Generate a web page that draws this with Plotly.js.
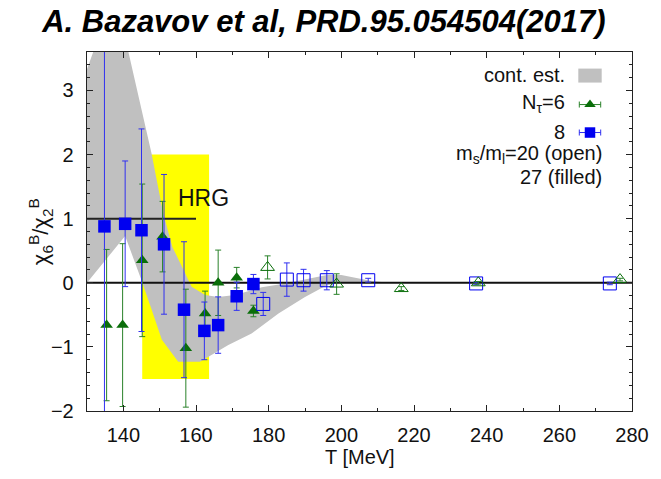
<!DOCTYPE html>
<html>
<head>
<meta charset="utf-8">
<script src="https://cdn.plot.ly/plotly-3.0.1.min.js"></script>
<style>html,body{margin:0;padding:0;background:#fff;}#chart{width:661px;height:479px;}</style>
</head>
<body>
<div id="chart"></div>
<script>
// ---- data ----
// Nt=8, ms/ml=27 (filled squares)
const T8_27   = [134.8, 140.5, 145.0, 151.2, 156.7, 162.3, 166.1, 171.2, 175.8];
const chi8_27 = [0.88, 0.92, 0.82, 0.60, -0.42, -0.75, -0.66, -0.21, -0.02];
const err8_27 = [2.9, 0.98, 1.58, 1.09, 1.06, 0.45, 0.44, 0.22, 0.15];
// Nt=6, ms/ml=27 (filled triangles)
const T6_27   = [135.4, 139.8, 145.2, 150.8, 157.2, 162.5, 166.1, 171.2, 175.8];
const chi6_27 = [-0.66, -0.66, 0.35, 0.72, -1.02, -0.48, 0.0, 0.08, -0.44];
const err6_27 = [1.18, 1.27, 1.19, 0.55, 0.92, 0.35, 0.51, 0.16, 0.09];
// Nt=8, ms/ml=20 (open squares)
const T8_20   = [178.5, 185.0, 189.6, 196.0, 207.4, 237.1, 273.9];
const chi8_20 = [-0.33, 0.05, 0.04, 0.04, 0.04, -0.01, -0.01];
const err8_20 = [0.18, 0.26, 0.17, 0.15, 0.03, 0.02, 0.02];
// Nt=6, ms/ml=20 (open triangles)
const T6_20   = [179.7, 198.7, 216.5, 237.7, 276.7];
const chi6_20 = [0.24, -0.02, -0.09, 0.0, 0.05];
const err6_20 = [0.18, 0.16, 0.03, 0.02, 0.02];
// continuum estimate band
const bandUpperT = [130, 131.7, 134, 138, 141.4, 147.8, 149.2, 151, 153.5, 156.5, 158.8, 162.5, 166.1, 170.7, 178.1, 184.5, 190, 196, 200, 208, 213];
const bandUpperY = [3.33, 3.6, 4.1, 4.2, 3.6, 2.01, 1.6, 1.08, 0.56, 0.2, -0.06, -0.19, -0.22, -0.19, -0.07, -0.01, 0.05, 0.12, 0.12, 0.03, 0.0];
const bandLowerT = [130, 140.5, 145, 147.8, 150.6, 155.1, 161.1, 163.4, 168.9, 175.3, 182.7, 190, 196, 200, 213];
const bandLowerY = [0.0, 0.73, 0.04, -0.42, -0.89, -1.23, -1.23, -1.15, -0.97, -0.79, -0.48, -0.22, -0.04, 0.0, 0.0];
// HRG
const hrgValue = 1;
const hrgLineT = [130, 160];
const hrgBandT = [145.2, 163.6];
const hrgBandY = [-1.5, 2.0];
const zeroLineT = [130, 280];
// ticks
const xTicks = [140, 160, 180, 200, 220, 240, 260, 280];
const yTicks = [-2, -1, 0, 1, 2, 3];

const FONT = 'Liberation Sans, Arial, Helvetica, sans-serif';
const BLUE = '#0000f0';
const BLUE_ERR = '#3030f0';
const GREEN = '#0a6e0a';
const GREEN_ERR = '#2a822a';

const polyT = bandUpperT.concat(bandLowerT.slice().reverse());
const polyY = bandUpperY.concat(bandLowerY.slice().reverse());

const traces = [
  {x: polyT, y: polyY, type: 'scatter', mode: 'lines', fill: 'toself',
   fillcolor: 'rgb(192,192,192)', line: {width: 0}, hoverinfo: 'skip', showlegend: false},
  {x: zeroLineT, y: zeroLineT.map(() => 0), type: 'scatter', mode: 'lines',
   line: {color: '#111', width: 2}, showlegend: false},
  {x: hrgLineT, y: hrgLineT.map(() => hrgValue), type: 'scatter', mode: 'lines',
   line: {color: '#222', width: 2}, showlegend: false},
  {x: T6_27, y: chi6_27, type: 'scatter', mode: 'markers',
   error_y: {type: 'data', array: err6_27, color: GREEN_ERR, thickness: 1, width: 3},
   marker: {symbol: 'triangle-up', size: 11, color: GREEN}, showlegend: false},
  {x: T8_27, y: chi8_27, type: 'scatter', mode: 'markers',
   error_y: {type: 'data', array: err8_27, color: BLUE_ERR, thickness: 1, width: 3},
   marker: {symbol: 'square', size: 12.5, color: BLUE}, showlegend: false},
  {x: T8_20, y: chi8_20, type: 'scatter', mode: 'markers',
   error_y: {type: 'data', array: err8_20, color: BLUE_ERR, thickness: 1, width: 3},
   marker: {symbol: 'square-open', size: 13, color: BLUE, line: {width: 1}}, showlegend: false},
  {x: T6_20, y: chi6_20, type: 'scatter', mode: 'markers',
   error_y: {type: 'data', array: err6_20, color: GREEN_ERR, thickness: 1, width: 3},
   marker: {symbol: 'triangle-up-open', size: 12, color: GREEN, line: {width: 1}}, showlegend: false},
  // legend samples on overlay pixel axes
  {x: [590], y: [104.3], xaxis: 'x2', yaxis: 'y2', type: 'scatter', mode: 'markers',
   error_x: {type: 'constant', value: 10.7, color: GREEN_ERR, thickness: 1, width: 3},
   marker: {symbol: 'triangle-up', size: 10, color: GREEN}, showlegend: false},
  {x: [590], y: [132.3], xaxis: 'x2', yaxis: 'y2', type: 'scatter', mode: 'markers',
   error_x: {type: 'constant', value: 10.7, color: BLUE_ERR, thickness: 1, width: 3},
   marker: {symbol: 'square', size: 10.5, color: BLUE}, showlegend: false}
];

const axisCommon = {
  showgrid: false, zeroline: false, showline: true, linecolor: '#222', linewidth: 1.3,
  mirror: 'allticks', ticks: 'inside', ticklen: 6, tickcolor: '#222', tickwidth: 1,
  tickfont: {family: FONT, size: 20, color: '#111'}
};

const legTxt = (y, text, x) => ({xref: 'x2', yref: 'y2', x: x, y: y, text: text, showarrow: false,
  xanchor: 'right', yanchor: 'middle', font: {family: FONT, size: 20, color: '#111'}});

const layout = {
  width: 661, height: 479,
  margin: {l: 87, r: 29, t: 52, b: 68},
  paper_bgcolor: '#fff', plot_bgcolor: '#fff',
  showlegend: false,
  title: {text: 'A. Bazavov et al, PRD.95.054504(2017)', xref: 'container', x: 0.49, y: 0.955,
          xanchor: 'center', yanchor: 'middle',
          font: {family: FONT, size: 31, weight: 'bold', style: 'italic', color: '#000'}},
  xaxis: Object.assign({}, axisCommon, {range: [130, 280], tickvals: xTicks, ticklabelstandoff: 6,
          minor: {dtick: 10, tick0: 130, ticks: 'inside', ticklen: 3, tickcolor: '#222'}}),
  yaxis: Object.assign({}, axisCommon, {range: [-2, 3.6], tickvals: yTicks, ticklabelstandoff: 8,
          minor: {dtick: 0.2, tick0: 0, ticks: 'inside', ticklen: 3, tickcolor: '#222'}}),
  xaxis2: {overlaying: 'x', range: [87, 632], visible: false, fixedrange: true},
  yaxis2: {overlaying: 'y', range: [411, 51.7], visible: false, fixedrange: true},
  shapes: [
    {type: 'rect', xref: 'x', yref: 'y', x0: hrgBandT[0], x1: hrgBandT[1], y0: hrgBandY[0], y1: hrgBandY[1],
     fillcolor: '#ffff00', line: {width: 0}, layer: 'below'},
    {type: 'rect', xref: 'x2', yref: 'y2', x0: 578.3, x1: 601.7, y0: 68.3, y1: 82.3,
     fillcolor: 'rgb(192,192,192)', line: {width: 0}}
  ],
  annotations: [
    {xref: 'x', yref: 'y', x: 162.2, y: 1.33, text: 'HRG', showarrow: false,
     font: {family: FONT, size: 23, color: '#111'}},
    {xref: 'paper', yref: 'paper', x: -0.085, y: 0.5, xanchor: 'center', yanchor: 'middle',
     text: 'χ<sub>6</sub><sup>B</sup>/χ<sub>2</sub><sup>B</sup>', textangle: -90, showarrow: false,
     font: {family: FONT, size: 22, color: '#111'}},
    {xref: 'paper', yref: 'paper', x: 0.5, y: -0.128, xanchor: 'center', yanchor: 'middle',
     text: 'T [MeV]', showarrow: false, font: {family: FONT, size: 20, color: '#111'}},
    legTxt(75, 'cont. est.', 566.7),
    legTxt(103.3, 'N<sub>τ</sub>=6', 566.7),
    legTxt(131.3, '8', 566.7),
    legTxt(154.3, 'm<sub>s</sub>/m<sub>l</sub>=20 (open)', 604),
    legTxt(176.7, '27 (filled)', 604)
  ]
};

Plotly.newPlot('chart', traces, layout, {displayModeBar: false, staticPlot: true});
</script>
</body>
</html>
